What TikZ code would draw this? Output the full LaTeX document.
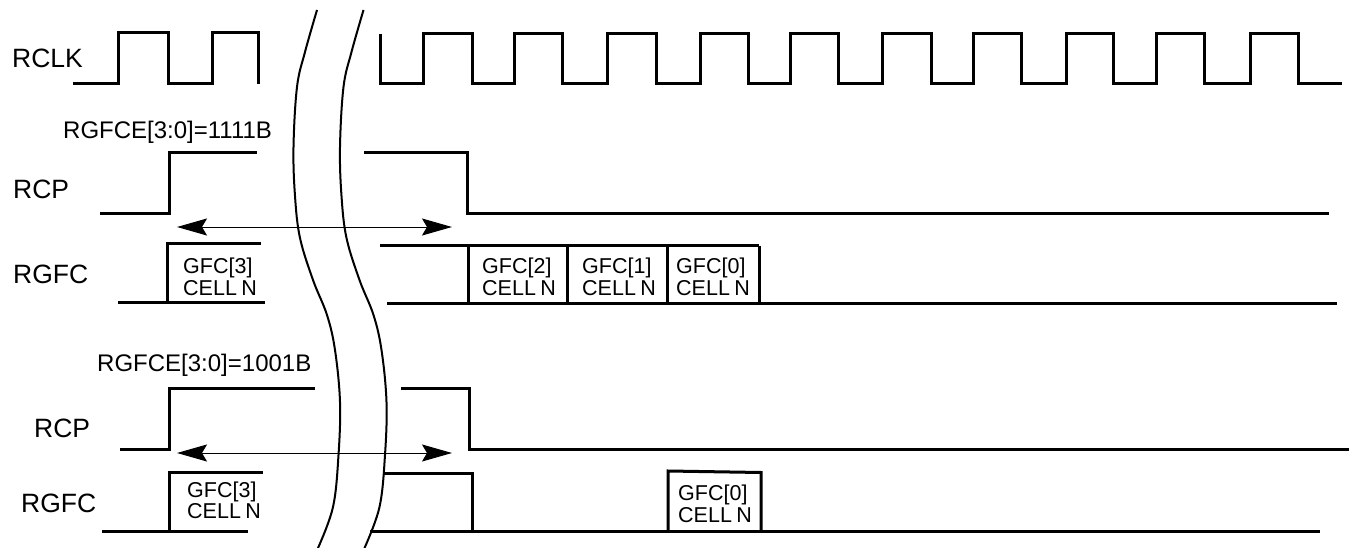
\documentclass[tikz,border=0pt]{standalone}
\usepackage{fontspec}
\setmainfont{Liberation Sans}
\usetikzlibrary{arrows.meta}
\newcommand{\celln}{CELL\hspace{0.2em}N}
\tikzset{
  wave/.style={line width=3pt, line join=miter},
  brk/.style={line width=2pt},
  span/.style={line width=1pt, {Stealth[length=30pt,width=17pt,inset=5pt]}-{Stealth[length=30pt,width=17pt,inset=5pt]}},
  lbl/.style={inner sep=0pt, anchor=base west, font=\fontsize{26.5}{30}\selectfont},
  cfg/.style={inner sep=0pt, anchor=base west, font=\fontsize{24}{28}\selectfont},
  celltxt/.style={inner sep=0pt, anchor=base west, font=\fontsize{21.5}{24}\selectfont}
}
\begin{document}
\begin{tikzpicture}[x=1pt,y=-1pt]
\useasboundingbox (0,0) rectangle (1351,548);
% labels
\node[lbl] (rclk) at (12,68) {RCLK};
\node[cfg] (rgfceA) at (63,139) {RGFCE[3:0]=1111B};
\node[lbl] (rcpA) at (13,198) {RCP};
\node[lbl] (rgfcA) at (13,283) {RGFC};
\node[cfg] (rgfceB) at (97,371.5) {RGFCE[3:0]=1001B};
\node[lbl] (rcpB) at (34,437) {RCP};
\node[lbl] (rgfcB) at (21,512) {RGFC};
% RCLK
\draw[wave] (73,84)--(118,84)--(118,33)--(168,33)--(168,84)--(212,84)--(212,33)--(258,33)--(258,84);
\draw[wave] (380,34)--(380,84)--(423,84)--(423,34)--(472,34)--(472,84)--(514,84)--(514,34)--(562,34)--(562,84)--(607,84)--(607,34)--(656,34)--(656,84)--(700,84)--(700,34)--(748,34)--(748,84)--(790,84)--(790,34)--(838,34)--(838,84)--(882,84)--(882,34)--(931,34)--(931,84)--(973,84)--(973,34)--(1021,34)--(1021,84)--(1066,84)--(1066,34)--(1113,34)--(1113,84)--(1156,84)--(1156,34)--(1204,34)--(1204,84)--(1250,84)--(1250,34)--(1298,34)--(1298,84)--(1342,84);
% block 1 RCP
\draw[wave] (100,213)--(169,213)--(169,153)--(257,153);
\draw[wave] (364,153)--(467,153)--(467,213)--(1329,213);
% block 1 RGFC
\draw[wave] (118,302)--(265,302);
\draw[wave] (167,302)--(167,243)--(261,243);
\draw[wave] (380,245.5)--(759,245.5);
\draw[wave] (387,303)--(1337,303);
\foreach \xx in {468,567,667,759} \draw[wave] (\xx,245.5)--(\xx,303);
\node[celltxt] (a3g) at (183,273) {GFC[3]};
\node[celltxt] (a3c) at (183,295) {\celln};
\node[celltxt] (a2g) at (482,273) {GFC[2]};
\node[celltxt] (a2c) at (482,295) {\celln};
\node[celltxt] (a1g) at (582,273) {GFC[1]};
\node[celltxt] (a1c) at (582,295) {\celln};
\node[celltxt] (a0g) at (676,273) {GFC[0]};
\node[celltxt] (a0c) at (676,295) {\celln};
% block 1 arrow
\coordinate (aL) at (177,227);
\coordinate (aR) at (452,227);
\draw[span] (aL) -- (aR);
% block 2 RCP
\draw[wave] (120,449)--(169,449)--(169,388)--(315,388);
\draw[wave] (401,388)--(469,388)--(469,449)--(1349,449);
% block 2 RGFC
\draw[wave] (102,531)--(248,531);
\draw[wave] (169,531)--(169,472)--(263,472);
\draw[wave] (384,473)--(472,473)--(472,531);
\draw[wave] (370,531.5)--(1320,531.5);
\draw[wave] (668,531.5)--(668,471)--(761,472.5)--(761,531.5);
\node[celltxt] (b3g) at (187,497) {GFC[3]};
\node[celltxt] (b3c) at (187,518) {\celln};
\node[celltxt] (b0g) at (678,500) {GFC[0]};
\node[celltxt] (b0c) at (678,522) {\celln};
% block 2 arrow
\coordinate (bL) at (177,453);
\coordinate (bR) at (452,453);
\draw[span] (bL) -- (bR);
% break curves
\draw[brk] plot[smooth, tension=0.6] coordinates {(317,10) (305,52) (297,87) (293.5,147) (295,196) (300,238) (313,280) (327,315) (335,350) (340,402) (338.5,455) (333,507) (318,548)};
\draw[brk, xshift=46.5pt] plot[smooth, tension=0.6] coordinates {(317,10) (305,52) (297,87) (293.5,147) (295,196) (300,238) (313,280) (327,315) (335,350) (340,402) (338.5,455) (333,507) (318,548)};
\end{tikzpicture}
\end{document}
